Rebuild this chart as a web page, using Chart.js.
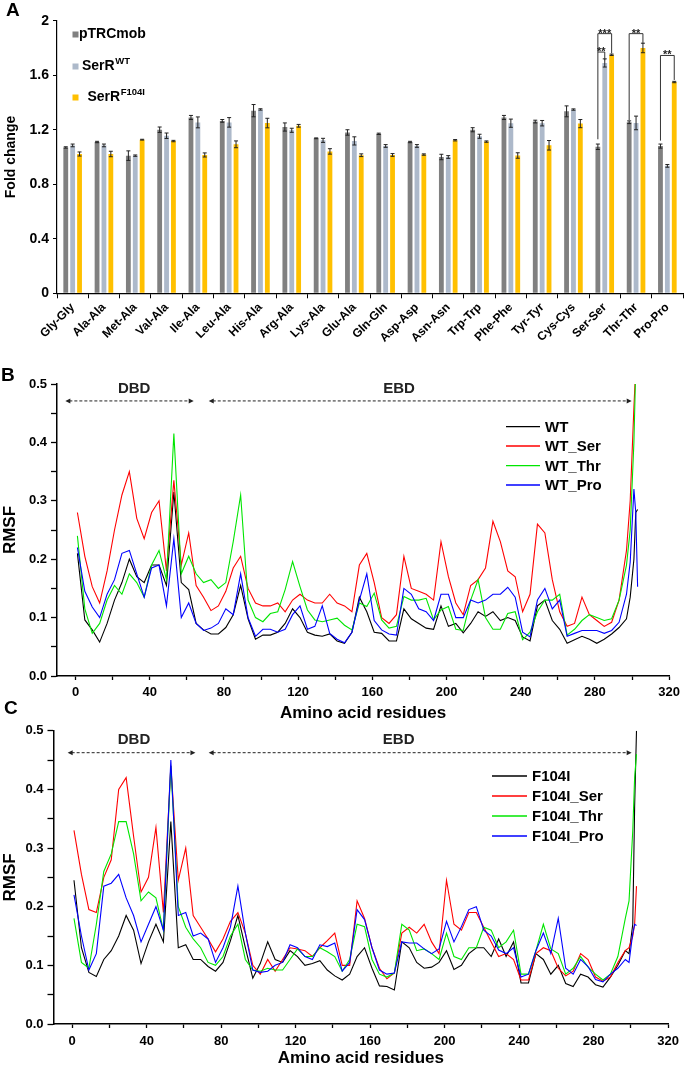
<!DOCTYPE html>
<html lang="en">
<head>
<meta charset="UTF-8">
<title>SerR fold change and RMSF</title>
<style>
  html, body { margin: 0; padding: 0; background: #fff; }
  #wrap { position: relative; width: 685px; height: 1067px; overflow: hidden; }
  #wrap canvas { position: absolute; left: 0; }
</style>
</head>
<body>
<div id="wrap">
  <canvas id="chartA" width="685" height="350" style="top:0px"></canvas>
  <canvas id="chartB" width="685" height="385" style="top:350px"></canvas>
  <canvas id="chartC" width="685" height="372" style="top:695px"></canvas>
</div>
<script src="https://cdn.jsdelivr.net/npm/chart.js"></script>
<script>
// ---------- panel A : fold change ----------
const pairs = ['Gly-Gly','Ala-Ala','Met-Ala','Val-Ala','Ile-Ala','Leu-Ala','His-Ala','Arg-Ala','Lys-Ala','Glu-Ala',
               'Gln-Gln','Asp-Asp','Asn-Asn','Trp-Trp','Phe-Phe','Tyr-Tyr','Cys-Cys','Ser-Ser','Thr-Thr','Pro-Pro'];
const foldPTRC  = [1.07,1.11,1.01,1.20,1.29,1.265,1.34,1.22,1.137,1.18,1.17,1.11,1.00,1.20,1.29,1.26,1.335,1.075,1.255,1.08];
const foldWT    = [1.085,1.085,1.01,1.156,1.254,1.254,1.349,1.196,1.122,1.118,1.081,1.081,1.0,1.152,1.248,1.248,1.348,1.69,1.25,0.935];
const foldF104I = [1.022,1.022,1.127,1.117,1.015,1.093,1.249,1.229,1.041,1.013,1.015,1.018,1.123,1.113,1.011,1.086,1.245,1.75,1.80,1.55];
const errPTRC   = [0.005,0.005,0.035,0.02,0.015,0.01,0.045,0.03,0.003,0.02,0.005,0.005,0.02,0.015,0.015,0.01,0.04,0.02,0.01,0.015];
const errWT     = [0.01,0.01,0.005,0.02,0.04,0.035,0.005,0.015,0.015,0.03,0.01,0.01,0.01,0.015,0.03,0.02,0.005,0.03,0.05,0.01];
const errF104I  = [0.015,0.02,0.003,0.005,0.015,0.025,0.035,0.01,0.02,0.01,0.01,0.005,0.005,0.005,0.02,0.035,0.03,0.005,0.035,0.005];
const strainBase = ['pTRCmob', 'SerR', 'SerR'];
const strainSup  = ['', 'WT', 'F104I'];
const foldTicks  = [0, 0.4, 0.8, 1.2, 1.6, 2];

// significance brackets (category, from series, to series, bracket level, left leg end, right leg end)
const sigPair     = [17, 17, 18, 19];
const sigFrom     = [0, 0, 0, 0];
const sigTo       = [2, 1, 2, 2];
const sigLevel    = [1.905, 1.77, 1.905, 1.745];
const sigLeftEnd  = [1.13, 1.77, 1.27, 1.12];
const sigRightEnd = [1.76, 1.71, 1.83, 1.565];
const sigStars    = ['***', '**', '**', '**'];

// ---------- panels B and C : RMSF per residue ----------
const residues = [1,5,9,13,17,21,25,29,33,37,
  41,45,49,53,57,61,65,69,73,77,
  81,85,89,93,97,101,105,109,113,117,
  121,125,129,133,137,141,145,149,153,157,
  161,165,169,173,177,181,185,189,193,197,
  201,205,209,213,217,221,225,229,233,237,
  241,245,249,253,257,261,265,269,273,277,
  281,285,289,293,297,299,301,302,303];

const rmsfWT = [0.21,0.096,0.079,0.058,0.09,0.13,0.16,0.20,0.17,0.16,
  0.19,0.19,0.155,0.315,0.16,0.148,0.09,0.079,0.072,0.072,
  0.083,0.105,0.155,0.098,0.063,0.07,0.07,0.075,0.09,0.115,
  0.10,0.075,0.07,0.068,0.072,0.06,0.056,0.075,0.135,0.11,
  0.075,0.073,0.06,0.06,0.115,0.098,0.09,0.082,0.08,0.12,
  0.085,0.09,0.074,0.09,0.11,0.102,0.11,0.095,0.10,0.095,
  0.067,0.06,0.12,0.13,0.095,0.08,0.056,0.062,0.068,0.063,
  0.056,0.063,0.072,0.083,0.098,0.135,0.2,0.28,0.285];
const rmsfWTSer = [0.28,0.205,0.153,0.125,0.18,0.25,0.31,0.35,0.27,0.235,
  0.28,0.30,0.18,0.335,0.19,0.245,0.155,0.135,0.112,0.12,
  0.145,0.185,0.205,0.15,0.125,0.12,0.12,0.125,0.11,0.13,
  0.14,0.13,0.125,0.125,0.14,0.125,0.12,0.11,0.19,0.21,
  0.16,0.10,0.09,0.105,0.205,0.15,0.145,0.14,0.13,0.23,
  0.17,0.125,0.105,0.155,0.165,0.185,0.265,0.23,0.18,0.17,
  0.11,0.14,0.26,0.245,0.165,0.11,0.085,0.09,0.135,0.105,
  0.095,0.085,0.092,0.13,0.215,0.30,0.46,0.53,null];
const rmsfWTThr = [0.24,0.115,0.073,0.09,0.13,0.155,0.14,0.175,0.16,0.135,
  0.19,0.215,0.165,0.415,0.175,0.205,0.175,0.16,0.165,0.15,
  0.16,0.23,0.31,0.13,0.10,0.093,0.107,0.11,0.148,0.196,
  0.153,0.113,0.096,0.093,0.096,0.099,0.087,0.079,0.125,0.119,
  0.142,0.096,0.082,0.085,0.136,0.13,0.13,0.133,0.096,0.113,
  0.119,0.08,0.078,0.13,0.165,0.10,0.08,0.08,0.107,0.11,
  0.062,0.075,0.11,0.13,0.13,0.14,0.07,0.08,0.095,0.105,
  0.1,0.095,0.098,0.13,0.19,0.25,0.40,0.53,null];
const rmsfWTPro = [0.22,0.145,0.118,0.10,0.14,0.165,0.21,0.215,0.175,0.135,
  0.185,0.19,0.12,0.235,0.10,0.125,0.09,0.078,0.082,0.09,
  0.115,0.105,0.175,0.10,0.068,0.08,0.08,0.075,0.08,0.105,
  0.12,0.08,0.085,0.12,0.073,0.063,0.057,0.075,0.13,0.175,
  0.095,0.079,0.072,0.07,0.15,0.14,0.115,0.11,0.095,0.14,
  0.14,0.10,0.10,0.13,0.125,0.13,0.14,0.14,0.152,0.135,
  0.075,0.067,0.13,0.15,0.115,0.13,0.068,0.073,0.078,0.078,
  0.078,0.073,0.078,0.092,0.14,0.195,0.32,0.28,0.153];

const rmsfF = [0.245,0.13,0.088,0.081,0.11,0.125,0.15,0.185,0.16,0.103,
  0.14,0.17,0.14,0.345,0.13,0.135,0.11,0.11,0.098,0.09,
  0.105,0.142,0.185,0.13,0.078,0.103,0.14,0.11,0.105,0.125,
  0.115,0.1,0.103,0.108,0.092,0.082,0.075,0.085,0.115,0.13,
  0.095,0.065,0.064,0.058,0.14,0.13,0.105,0.095,0.097,0.105,
  0.125,0.093,0.1,0.12,0.13,0.13,0.115,0.145,0.115,0.14,
  0.07,0.07,0.12,0.11,0.085,0.1,0.069,0.064,0.085,0.08,
  0.067,0.063,0.08,0.1,0.125,0.12,0.17,0.37,0.5];
const rmsfFSer = [0.33,0.255,0.195,0.19,0.25,0.28,0.40,0.42,0.32,0.225,
  0.25,0.335,0.19,0.44,0.245,0.30,0.185,0.165,0.145,0.123,
  0.145,0.175,0.19,0.155,0.1,0.085,0.11,0.09,0.11,0.13,
  0.128,0.125,0.115,0.13,0.142,0.155,0.10,0.10,0.21,0.18,
  0.13,0.095,0.077,0.087,0.155,0.165,0.155,0.17,0.14,0.12,
  0.245,0.17,0.16,0.19,0.19,0.165,0.14,0.115,0.12,0.11,
  0.075,0.075,0.12,0.13,0.125,0.095,0.082,0.09,0.12,0.11,
  0.08,0.073,0.08,0.105,0.125,0.13,0.15,0.17,0.235];
const rmsfFThr = [0.18,0.105,0.095,0.17,0.26,0.29,0.345,0.345,0.29,0.21,
  0.225,0.215,0.16,0.44,0.20,0.165,0.145,0.13,0.105,0.10,
  0.115,0.15,0.17,0.11,0.092,0.09,0.095,0.092,0.092,0.11,
  0.128,0.115,0.115,0.13,0.123,0.115,0.09,0.11,0.17,0.166,
  0.11,0.085,0.08,0.087,0.17,0.16,0.125,0.128,0.12,0.11,
  0.155,0.115,0.11,0.13,0.13,0.165,0.16,0.13,0.14,0.16,
  0.085,0.085,0.125,0.17,0.128,0.12,0.085,0.095,0.115,0.097,
  0.085,0.075,0.085,0.115,0.18,0.21,0.33,0.42,0.46];
const rmsfFPro = [0.22,0.15,0.092,0.12,0.235,0.24,0.255,0.215,0.185,0.14,
  0.17,0.20,0.16,0.45,0.185,0.19,0.15,0.155,0.145,0.105,
  0.13,0.165,0.235,0.155,0.092,0.088,0.09,0.1,0.105,0.135,
  0.13,0.115,0.11,0.135,0.132,0.138,0.09,0.105,0.195,0.178,
  0.13,0.092,0.085,0.087,0.14,0.138,0.138,0.128,0.12,0.128,
  0.175,0.14,0.166,0.195,0.2,0.16,0.15,0.126,0.12,0.13,
  0.08,0.085,0.125,0.155,0.12,0.18,0.095,0.085,0.11,0.098,
  0.076,0.072,0.085,0.095,0.11,0.105,0.155,0.17,0.168];

const namesB = ['WT', 'WT_Ser', 'WT_Thr', 'WT_Pro'];
const namesC = ['F104I', 'F104I_Ser', 'F104I_Thr', 'F104I_Pro'];

// domain annotations (residue numbers)
const domainNames = ['DBD', 'EBD'];
const domainFromB = [-5.5, 71.8], domainToB = [63.7, 299.8], domainMidB = [31.6, 174.4];
const domainFromC = [-2.4, 73.3], domainToC = [66.2, 300.4], domainMidC = [33.2, 175.3];

// ---------- shared stuff ----------
const FONT = '"Liberation Sans", Arial, Helvetica, sans-serif';
Chart.defaults.font.family = FONT;
Chart.defaults.color = '#000';
const barColors  = ['#808080', '#adb9ca', '#ffc000'];
const lineColors = ['#000000', '#ff0000', '#00e600', '#0000ff'];

// letter in the corner of each panel
const panelLetter = {
  id: 'panelLetter',
  afterDraw(chart, args, o) {
    const ctx = chart.ctx;
    ctx.save();
    ctx.font = 'bold 19px ' + FONT;
    ctx.fillStyle = '#000';
    ctx.textBaseline = 'alphabetic';
    ctx.fillText(o.text, o.x, o.y);
    ctx.restore();
  }
};

// error bars on top of the bars
const errorBars = {
  id: 'errorBars',
  afterDatasetsDraw(chart) {
    const ctx = chart.ctx, y = chart.scales.y;
    ctx.save();
    ctx.strokeStyle = '#222';
    ctx.lineWidth = 1;
    chart.data.datasets.forEach((ds, i) => {
      chart.getDatasetMeta(i).data.forEach((bar, j) => {
        const top = y.getPixelForValue(ds.data[j] + ds.err[j]);
        const bot = y.getPixelForValue(ds.data[j] - ds.err[j]);
        ctx.beginPath();
        ctx.moveTo(bar.x, top); ctx.lineTo(bar.x, bot);
        ctx.moveTo(bar.x - 2, top); ctx.lineTo(bar.x + 2, top);
        ctx.moveTo(bar.x - 2, bot); ctx.lineTo(bar.x + 2, bot);
        ctx.stroke();
      });
    });
    ctx.restore();
  }
};

// significance brackets with stars
const sigBrackets = {
  id: 'sigBrackets',
  afterDatasetsDraw(chart) {
    const ctx = chart.ctx, y = chart.scales.y;
    ctx.save();
    ctx.strokeStyle = '#333';
    ctx.fillStyle = '#222';
    ctx.lineWidth = 1;
    ctx.font = 'bold 11px ' + FONT;
    ctx.textAlign = 'center';
    ctx.textBaseline = 'alphabetic';
    sigPair.forEach((c, k) => {
      const xa = chart.getDatasetMeta(sigFrom[k]).data[c].x;
      const xb = chart.getDatasetMeta(sigTo[k]).data[c].x;
      const yl = y.getPixelForValue(sigLevel[k]);
      ctx.beginPath();
      ctx.moveTo(xa, y.getPixelForValue(sigLeftEnd[k]));
      ctx.lineTo(xa, yl);
      ctx.lineTo(xb, yl);
      ctx.lineTo(xb, y.getPixelForValue(sigRightEnd[k]));
      ctx.stroke();
      ctx.fillText(sigStars[k], (xa + xb) / 2, yl + 3);
    });
    ctx.restore();
  }
};

// legend for panel A (square + label with superscript)
const legendA = {
  id: 'legendA',
  afterDraw(chart, args, o) {
    const ctx = chart.ctx;
    ctx.save();
    ctx.textBaseline = 'middle';
    strainBase.forEach((base, i) => {
      const cy = o.rows[i];
      ctx.fillStyle = barColors[i];
      ctx.fillRect(o.boxX, cy - 3, 6, 6);
      ctx.fillStyle = '#000';
      ctx.font = 'bold 14px ' + FONT;
      ctx.fillText(base, o.textX[i], cy);
      if (strainSup[i]) {
        const w = ctx.measureText(base).width;
        ctx.font = 'bold 9.5px ' + FONT;
        ctx.fillText(strainSup[i], o.textX[i] + w + 0.5, cy - 5);
      }
    });
    ctx.restore();
  }
};

// legend for the RMSF panels
const lineLegend = {
  id: 'lineLegend',
  afterDraw(chart, args, o) {
    const ctx = chart.ctx;
    ctx.save();
    ctx.font = 'bold 15px ' + FONT;
    ctx.textBaseline = 'middle';
    chart.data.datasets.forEach((ds, i) => {
      const cy = o.rows[i];
      ctx.strokeStyle = ds.borderColor;
      ctx.lineWidth = 1.3;
      ctx.beginPath();
      ctx.moveTo(o.x0, cy); ctx.lineTo(o.x1, cy);
      ctx.stroke();
      ctx.fillStyle = '#000';
      ctx.fillText(ds.label, o.textX, cy + 1);
    });
    ctx.restore();
  }
};

// dashed double arrows for DBD / EBD
const domainArrows = {
  id: 'domainArrows',
  afterDraw(chart, args, o) {
    const ctx = chart.ctx, x = chart.scales.x, y = chart.scales.y;
    const ya = y.getPixelForValue(o.arrowY);
    ctx.save();
    ctx.strokeStyle = '#222';
    ctx.fillStyle = '#222';
    ctx.lineWidth = 1;
    domainNames.forEach((name, i) => {
      const x0 = x.getPixelForValue(o.from[i]), x1 = x.getPixelForValue(o.to[i]);
      ctx.setLineDash([3, 2]);
      ctx.beginPath();
      ctx.moveTo(x0 + 4, ya); ctx.lineTo(x1 - 4, ya);
      ctx.stroke();
      ctx.setLineDash([]);
      ctx.beginPath();
      ctx.moveTo(x0, ya); ctx.lineTo(x0 + 5, ya - 2.5); ctx.lineTo(x0 + 5, ya + 2.5); ctx.closePath();
      ctx.moveTo(x1, ya); ctx.lineTo(x1 - 5, ya - 2.5); ctx.lineTo(x1 - 5, ya + 2.5); ctx.closePath();
      ctx.fill();
      ctx.font = 'bold 15px ' + FONT;
      ctx.textAlign = 'center';
      ctx.textBaseline = 'middle';
      ctx.fillText(name, x.getPixelForValue(o.mid[i]), y.getPixelForValue(o.labelY));
    });
    ctx.restore();
  }
};

// ---------- chart A ----------
const foldSeries = [foldPTRC, foldWT, foldF104I];
const foldErr = [errPTRC, errWT, errF104I];
new Chart(document.getElementById('chartA'), {
  type: 'bar',
  data: {
    labels: pairs,
    datasets: foldSeries.map((d, i) => ({
      label: strainBase[i] + strainSup[i],
      data: d,
      err: foldErr[i],
      backgroundColor: barColors[i],
      borderWidth: 0,
      categoryPercentage: 0.66,
      barPercentage: 0.7
    }))
  },
  options: {
    responsive: false,
    animation: false,
    layout: { padding: { top: 20.7, right: 2, left: 0, bottom: 0 } },
    plugins: {
      legend: { display: false },
      tooltip: { enabled: false },
      panelLetter: { text: 'A', x: 6, y: 16 },
      legendA: { boxX: 72.5, rows: [34.5, 66.5, 97.5], textX: [79, 82, 87.5] }
    },
    scales: {
      x: {
        grid: { drawOnChartArea: false, offset: true, tickLength: 5, color: '#000' },
        border: { color: '#000', width: 1.2 },
        ticks: { minRotation: 45, maxRotation: 45, autoSkip: false, padding: 2,
                 font: { size: 12, weight: 'bold' } },
        afterFit(s) { s.height = 56.7; }
      },
      y: {
        min: 0, max: 2,
        afterBuildTicks(s) { s.ticks = foldTicks.map(v => ({ value: v })); },
        ticks: { padding: 4, font: { size: 14, weight: 'bold' },
                 callback: v => String(Number(v.toFixed(1))) },
        grid: { drawOnChartArea: false, tickLength: 4, color: '#000' },
        border: { color: '#000', width: 1.2 },
        title: { display: true, text: 'Fold change', font: { size: 14, weight: 'bold', lineHeight: 1 },
                 padding: { top: 4, bottom: 0 } },
        afterFit(s) { s.width = 57; }
      }
    }
  },
  plugins: [errorBars, sigBrackets, legendA, panelLetter]
});

// ---------- charts B and C ----------
function rmsfChart(id, series, names, o) {
  return new Chart(document.getElementById(id), {
    type: 'line',
    data: {
      datasets: series.map((s, i) => ({
        label: names[i],
        data: residues.map((r, k) => ({ x: r, y: s[k] })),
        borderColor: lineColors[i],
        borderWidth: 1.1,
        pointRadius: 0,
        tension: 0,
        order: 3 - i
      }))
    },
    options: {
      responsive: false,
      animation: false,
      layout: { padding: { top: o.top, right: o.right, left: 0, bottom: 0 } },
      plugins: {
        legend: { display: false },
        tooltip: { enabled: false },
        panelLetter: o.letter,
        lineLegend: o.legend,
        domainArrows: o.domains
      },
      scales: {
        x: {
          type: 'linear', min: -10, max: 320,
          ticks: { stepSize: 20, includeBounds: false, autoSkip: false, maxRotation: 0, padding: o.xPad,
                   font: { size: 13, weight: 'bold' },
                   callback: v => (v % 40 === 0 ? String(v) : '') },
          grid: { drawOnChartArea: false, tickLength: 4, color: '#000', tickWidth: 1.3 },
          border: { color: '#000', width: 1.5 },
          title: { display: true, text: 'Amino acid residues', font: { size: 17, weight: 'bold', lineHeight: 1 },
                   padding: { top: 0, bottom: o.titlePad } },
          afterFit(s) { s.height = o.xH; }
        },
        y: {
          min: 0, max: 0.5,
          ticks: { stepSize: 0.05, autoSkip: false, padding: 4, font: { size: 13, weight: 'bold' },
                   callback: v => (Math.round(v * 100) % 10 === 0 ? v.toFixed(1) : '') },
          grid: { drawOnChartArea: false, tickLength: 6, color: '#000', tickWidth: 1.3 },
          border: { color: '#000', width: 1.5 },
          title: { display: true, text: 'RMSF', font: { size: 17, weight: 'bold', lineHeight: 1 },
                   padding: { top: 1.5, bottom: 0 } },
          afterFit(s) { s.width = o.yW; }
        }
      }
    },
    plugins: [lineLegend, domainArrows, panelLetter]
  });
}

rmsfChart('chartB', [rmsfWT, rmsfWTSer, rmsfWTThr, rmsfWTPro], namesB, {
  top: 34, right: 11.5, yW: 57, xH: 59, xPad: 5, titlePad: 13.5,
  letter: { text: 'B', x: 1, y: 31 },
  legend: { x0: 506, x1: 540, textX: 545, rows: [76.7, 96, 115.7, 135] },
  domains: { from: domainFromB, to: domainToB, mid: domainMidB, arrowY: 0.471, labelY: 0.491 }
});

rmsfChart('chartC', [rmsfF, rmsfFSer, rmsfFThr, rmsfFPro], namesC, {
  top: 35.7, right: 11.3, yW: 53.5, xH: 43, xPad: 6, titlePad: 0.5,
  letter: { text: 'C', x: 4, y: 19 },
  legend: { x0: 492, x1: 527, textX: 532, rows: [81, 101, 121, 141] },
  domains: { from: domainFromC, to: domainToC, mid: domainMidC, arrowY: 0.4625, labelY: 0.484 }
});
</script>
</body>
</html>
